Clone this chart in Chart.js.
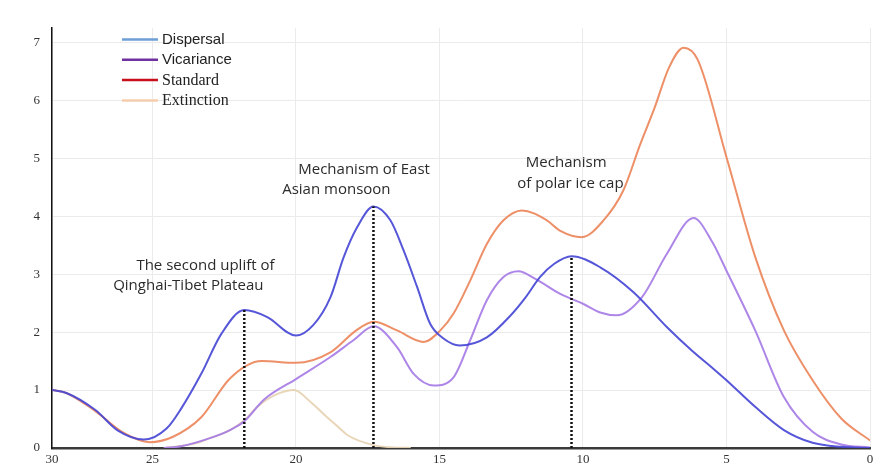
<!DOCTYPE html>
<html>
<head>
<meta charset="utf-8">
<script src="https://cdn.jsdelivr.net/npm/chart.js@4/dist/chart.umd.min.js"></script>
<style>
  html, body { margin: 0; padding: 0; background: #ffffff; }
  canvas { display: block; }
</style>
</head>
<body>
<canvas id="chart" width="886" height="470"></canvas>
<script>
// Diversification rate curves through time (Ma), with three palaeo-events.
const dispersalAge   = [28.5, 28, 27, 26.2, 25.3, 24.5, 24, 23.3, 22.6, 21.8, 21, 20, 19.4, 18.8, 18.34, 17.87, 17.3, 16.71, 16.25, 15.78, 15.32, 14.86, 14.3, 13.35, 12.5, 12, 11.5, 11, 10.4, 9.4, 8.24, 7.08, 6.2, 5.46, 5, 4, 3, 2, 1, 0];
const dispersalValue = [1.0, 0.95, 0.66, 0.30, 0.145, 0.34, 0.68, 1.28, 1.97, 2.38, 2.26, 1.94, 2.12, 2.60, 3.29, 3.81, 4.17, 3.93, 3.41, 2.78, 2.14, 1.89, 1.77, 1.91, 2.30, 2.60, 2.95, 3.18, 3.31, 3.12, 2.69, 2.09, 1.68, 1.37, 1.17, 0.71, 0.31, 0.09, 0.02, 0.0];

const vicarianceAge   = [24.6, 24, 23, 22.3, 21.8, 21.1, 20, 18.8, 18, 17.29, 16.48, 15.9, 15.2, 14.51, 13.93, 13.35, 12.77, 12.25, 11.66, 10.79, 10, 9.4, 8.82, 7.95, 7.08, 6.15, 5.5, 5, 4, 3, 2, 1, 0];
const vicarianceValue = [0.0, 0.03, 0.17, 0.31, 0.46, 0.84, 1.19, 1.57, 1.86, 2.10, 1.74, 1.28, 1.08, 1.22, 1.86, 2.55, 2.95, 3.05, 2.92, 2.66, 2.49, 2.34, 2.29, 2.60, 3.35, 3.97, 3.56, 3.06, 2.03, 0.88, 0.28, 0.06, 0.01];

const standardAge   = [28.5, 28, 27, 26, 25.1, 24.3, 23.3, 22.3, 21.2, 20, 18.8, 17.9, 17.29, 16.48, 15.55, 14.97, 14.51, 13.93, 13.35, 12.77, 12.13, 11.26, 10.79, 10.04, 9.3, 8.6, 8, 7.5, 7, 6.5, 6, 5, 4, 3, 2, 1, 0];
const standardValue = [1.0, 0.95, 0.64, 0.26, 0.10, 0.19, 0.53, 1.20, 1.50, 1.47, 1.65, 2.03, 2.18, 2.03, 1.83, 2.03, 2.32, 2.89, 3.52, 3.93, 4.10, 3.93, 3.75, 3.64, 3.92, 4.44, 5.25, 5.88, 6.57, 6.91, 6.70, 5.02, 3.30, 2.03, 1.17, 0.51, 0.13];

const extinctionAge   = [24.6, 23.5, 23, 22.3, 21.8, 21.35, 20.7, 20.07, 19.5, 19, 18.5, 18.2, 17.3, 16.6, 16];
const extinctionValue = [0.0, 0.08, 0.17, 0.31, 0.48, 0.71, 0.92, 1.0, 0.80, 0.57, 0.35, 0.22, 0.05, 0.01, 0.0];

// Axis ticks (the left edge of the time axis carries the "30" label)
const xTickValues = [28.5, 25, 20, 15, 10, 5, 0];
const xTickLabels = ['30', '25', '20', '15', '10', '5', '0'];
const yTickValues = [0, 1, 2, 3, 4, 5, 6, 7];

// Palaeo-events marked by dotted drop lines to the dispersal curve
const eventAge   = [21.8, 17.3, 10.4];
const eventValue = [2.38, 4.17, 3.31];
const eventText  = [
  ['The second uplift of', 'Qinghai-Tibet Plateau'],
  ['Mechanism of East', 'Asian monsoon'],
  ['Mechanism', 'of polar ice cap']
];

const seriesNames = ['Dispersal', 'Vicariance', 'Standard', 'Extinction'];

// ---- styling ----
const curveColors  = ['rgba(72,72,214,0.92)', 'rgba(166,124,230,0.92)', 'rgba(236,134,90,0.92)', 'rgba(232,212,180,0.95)'];
const legendColors = ['#6d9fd6', '#7030a0', '#c8101c', '#f6ccae'];
const legendFonts  = ['15px "Liberation Sans"', '15px "Liberation Sans"', '16px "Liberation Serif"', '16px "Liberation Serif"'];

// text anchor (left edge, vertical middle) of each annotation line in data units
const eventTextPos = [
  [{ x: 25.56, y: 3.15 }, { x: 26.37, y: 2.80 }],
  [{ x: 19.92, y: 4.81 }, { x: 20.48, y: 4.45 }],
  [{ x: 11.99, y: 4.93 }, { x: 12.29, y: 4.57 }]
];

function pts(ages, vals) { return ages.map((a, i) => ({ x: a, y: vals[i] })); }

const curveSets = [
  [dispersalAge, dispersalValue],
  [vicarianceAge, vicarianceValue],
  [standardAge, standardValue],
  [extinctionAge, extinctionValue]
];
const curveOrder = [1, 2, 3, 4];

const datasets = curveSets.map((s, i) => ({
  label: seriesNames[i],
  data: pts(s[0], s[1]),
  borderColor: curveColors[i],
  borderWidth: 2,
  pointRadius: 0,
  cubicInterpolationMode: 'monotone',
  fill: false,
  order: curveOrder[i]
}));

eventAge.forEach((a, i) => {
  datasets.push({
    label: 'event' + i,
    data: [{ x: a, y: 0 }, { x: a, y: eventValue[i] }],
    borderColor: '#111111',
    borderWidth: 2.5,
    borderDash: [2, 2],
    pointRadius: 0,
    tension: 0,
    fill: false,
    order: 0
  });
});

const legendPlugin = {
  id: 'lineLegend',
  afterDraw(chart) {
    const ctx = chart.ctx;
    ctx.save();
    seriesNames.forEach((name, i) => {
      const y = 39.5 + i * 20.3;
      ctx.strokeStyle = legendColors[i];
      ctx.lineWidth = 2.5;
      ctx.beginPath();
      ctx.moveTo(122, y);
      ctx.lineTo(158, y);
      ctx.stroke();
      ctx.fillStyle = '#222222';
      ctx.font = legendFonts[i];
      ctx.textAlign = 'left';
      ctx.textBaseline = 'middle';
      ctx.fillText(name, 162, y + 0.5);
    });
    ctx.restore();
  }
};

const eventTextPlugin = {
  id: 'eventText',
  afterDatasetsDraw(chart) {
    const ctx = chart.ctx;
    const xs = chart.scales.x, ys = chart.scales.y;
    ctx.save();
    ctx.fillStyle = '#2b2b2b';
    ctx.font = '15px "Open Sans"';
    ctx.textAlign = 'left';
    ctx.textBaseline = 'middle';
    eventText.forEach((lines, i) => {
      lines.forEach((t, j) => {
        const p = eventTextPos[i][j];
        ctx.fillText(t, xs.getPixelForValue(p.x), ys.getPixelForValue(p.y));
      });
    });
    ctx.restore();
  }
};

new Chart(document.getElementById('chart'), {
  type: 'line',
  data: { datasets },
  options: {
    responsive: false,
    animation: false,
    layout: { padding: { top: 28, right: 16, left: 0, bottom: 0 } },
    plugins: { legend: { display: false }, tooltip: { enabled: false } },
    scales: {
      x: {
        type: 'linear',
        reverse: true,
        min: 0,
        max: 28.5,
        afterBuildTicks(scale) { scale.ticks = xTickValues.map(v => ({ value: v })); },
        afterFit(scale) { scale.height = 22; },
        ticks: {
          autoSkip: false,
          maxRotation: 0,
          padding: 4,
          color: '#333333',
          font: { family: '"Liberation Serif"', size: 13 },
          callback: (v) => xTickLabels[xTickValues.indexOf(v)]
        },
        grid: { color: '#ebebeb', lineWidth: 1, drawTicks: false },
        border: { display: true, color: '#3a3a3a', width: 2.5 }
      },
      y: {
        type: 'linear',
        min: 0,
        max: 7.25,
        afterBuildTicks(scale) { scale.ticks = yTickValues.map(v => ({ value: v })); },
        afterFit(scale) { scale.width = 52; },
        ticks: {
          padding: 12,
          color: '#333333',
          font: { family: '"Liberation Serif"', size: 13 },
          callback: (v) => String(v)
        },
        grid: { color: '#ebebeb', lineWidth: 1, drawTicks: false },
        border: { display: true, color: '#111111', width: 1.5 }
      }
    }
  },
  plugins: [legendPlugin, eventTextPlugin]
});
</script>
</body>
</html>
